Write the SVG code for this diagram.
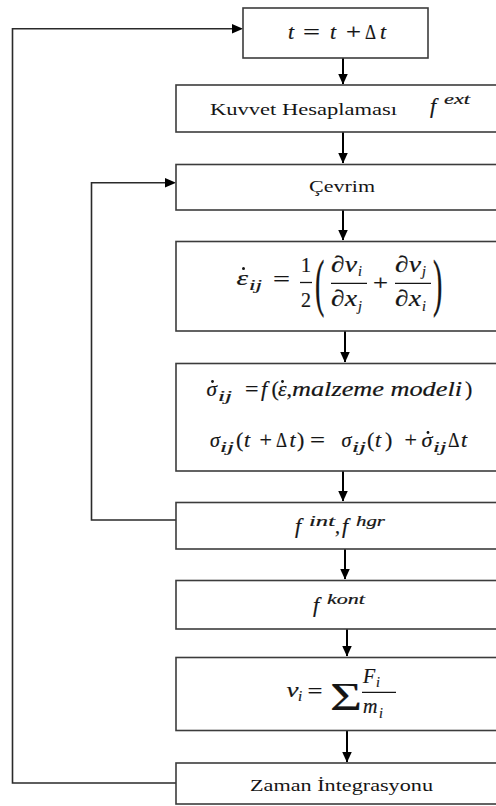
<svg xmlns="http://www.w3.org/2000/svg" width="496" height="806" viewBox="0 0 496 806">
  <defs>
    <marker id="head" markerWidth="11" markerHeight="10" refX="10.5" refY="5" orient="auto" markerUnits="userSpaceOnUse">
      <path d="M0,0 L11,5 L0,10 Z" fill="#000"/>
    </marker>
    <style>
      .box { fill: #fff; stroke: #3c3c3c; stroke-width: 1.6; }
      .flow { fill: none; stroke: #000; stroke-width: 2; marker-end: url(#head); }
      .loop { fill: none; stroke: #2a2a2a; stroke-width: 1.6; }
      text { stroke: #151515; stroke-width: 0.2; }
      text.lbl { stroke: none; }
      .m { font-style: italic; }
      .frac { stroke: #151515; stroke-width: 1.3; }
      .dot { fill: #151515; }
    </style>
  </defs>

  <rect width="496" height="806" fill="#fff"/>

  <!-- connectors -->
  <g id="connectors">
    <path class="flow" d="M343,58 V84"/>
    <path class="flow" d="M343,132 V163"/>
    <path class="flow" d="M343,210 V240"/>
    <path class="flow" d="M345,331 V362"/>
    <path class="flow" d="M343,471 V501"/>
    <path class="flow" d="M345,549 V579"/>
    <path class="flow" d="M347,629 V656"/>
    <path class="flow" d="M347,731 V762"/>
    <!-- inner loop: forces back to the cycle -->
    <path class="loop" d="M176,520 H91.5 V182.7 H166"/>
    <path d="M165,178 L176,182.7 L165,187.4 Z" fill="#000"/>
    <!-- outer loop: time integration back to time step -->
    <path class="loop" d="M176,783 H12.5 V28.7 H233"/>
    <path d="M232,24 L243,28.7 L232,33.4 Z" fill="#000"/>
  </g>

  <g font-family="'Liberation Serif', 'Times New Roman', serif" fill="#151515">

  <!-- time step -->
  <g id="n-time">
    <rect class="box" x="243" y="8" width="185" height="50"/>
    <text class="m" x="288" y="38.5" font-size="22">t</text>
    <text x="303" y="38.5" font-size="22" textLength="17" lengthAdjust="spacingAndGlyphs">=</text>
    <text class="m" x="330" y="38.5" font-size="22">t</text>
    <text x="346" y="38.5" font-size="22" textLength="15" lengthAdjust="spacingAndGlyphs">+</text>
    <text x="365" y="38.5" font-size="22" textLength="11" lengthAdjust="spacingAndGlyphs">Δ</text>
    <text class="m" x="380" y="38.5" font-size="22">t</text>
  </g>

  <!-- external force -->
  <g id="n-force">
    <rect class="box" x="176" y="85" width="340" height="47"/>
    <text class="lbl" x="210" y="115" font-size="17" textLength="187" lengthAdjust="spacingAndGlyphs">Kuvvet Hesaplaması</text>
    <text class="m" x="430" y="113" font-size="22">f</text>
    <text class="m" x="444" y="104" font-size="15" textLength="26" lengthAdjust="spacingAndGlyphs">ext</text>
  </g>

  <!-- cycle -->
  <g id="n-cycle">
    <rect class="box" x="176" y="164.5" width="340" height="45.5"/>
    <text class="lbl" x="309" y="192" font-size="17" textLength="66" lengthAdjust="spacingAndGlyphs">Çevrim</text>
  </g>

  <!-- strain rate -->
  <g id="n-strain">
    <rect class="box" x="176" y="241.5" width="340" height="89.5"/>
    <text class="m" x="236.5" y="285" font-size="22" textLength="11.5" lengthAdjust="spacingAndGlyphs">ε</text>
    <circle class="dot" cx="243.5" cy="268.5" r="1.5"/>
    <text class="m" x="249" y="290" font-size="15" textLength="13" lengthAdjust="spacingAndGlyphs">ij</text>
    <text x="273" y="286" font-size="22" textLength="17" lengthAdjust="spacingAndGlyphs">=</text>
    <text x="301" y="271.5" font-size="20">1</text>
    <line class="frac" x1="300" y1="282.5" x2="312" y2="282.5"/>
    <text x="301" y="307" font-size="20">2</text>
    <text transform="translate(315,304) scale(1,2.3)" font-size="28">(</text>
    <text class="m" x="331" y="271.5" font-size="23" textLength="26" lengthAdjust="spacingAndGlyphs">∂ν</text>
    <text class="m" x="358" y="276" font-size="14">i</text>
    <line class="frac" x1="331" y1="283.3" x2="367" y2="283.3"/>
    <text class="m" x="331" y="306" font-size="23" textLength="26" lengthAdjust="spacingAndGlyphs">∂x</text>
    <text class="m" x="358" y="311" font-size="14">j</text>
    <text x="373" y="290" font-size="22" textLength="15" lengthAdjust="spacingAndGlyphs">+</text>
    <text class="m" x="395" y="271.5" font-size="23" textLength="26" lengthAdjust="spacingAndGlyphs">∂ν</text>
    <text class="m" x="422" y="276" font-size="14">j</text>
    <line class="frac" x1="395" y1="283.3" x2="431" y2="283.3"/>
    <text class="m" x="395" y="306" font-size="23" textLength="26" lengthAdjust="spacingAndGlyphs">∂x</text>
    <text class="m" x="422" y="311" font-size="14">i</text>
    <text transform="translate(433,304) scale(1,2.3)" font-size="28">)</text>
  </g>

  <!-- stress update -->
  <g id="n-stress">
    <rect class="box" x="176" y="363.5" width="340" height="107.5"/>
    <!-- rate of stress from the material model -->
    <text class="m" x="206.5" y="396" font-size="22" textLength="10.5" lengthAdjust="spacingAndGlyphs">σ</text>
    <circle class="dot" cx="212.5" cy="381.5" r="1.4"/>
    <text class="m" x="218" y="401" font-size="15" textLength="14" lengthAdjust="spacingAndGlyphs">ij</text>
    <text x="245" y="396" font-size="22" textLength="13.5" lengthAdjust="spacingAndGlyphs">=</text>
    <text class="m" x="261" y="396" font-size="22">f</text>
    <text x="271.5" y="396" font-size="22">(</text>
    <text class="m" x="278" y="396" font-size="22" textLength="8.5" lengthAdjust="spacingAndGlyphs">ε</text>
    <circle class="dot" cx="282.5" cy="381.5" r="1.4"/>
    <text x="286.5" y="396" font-size="22">,</text>
    <text class="m" x="292" y="396" font-size="22" textLength="170" lengthAdjust="spacingAndGlyphs">malzeme modeli</text>
    <text x="465" y="396" font-size="22">)</text>
    <!-- explicit stress update -->
    <text class="m" x="210" y="447" font-size="22" textLength="10" lengthAdjust="spacingAndGlyphs">σ</text>
    <text class="m" x="220" y="452" font-size="15" textLength="14" lengthAdjust="spacingAndGlyphs">ij</text>
    <text x="236" y="447" font-size="22">(</text>
    <text class="m" x="244" y="447" font-size="22">t</text>
    <text x="259.5" y="447" font-size="22" textLength="12.5" lengthAdjust="spacingAndGlyphs">+</text>
    <text x="276" y="447" font-size="22" textLength="11" lengthAdjust="spacingAndGlyphs">Δ</text>
    <text class="m" x="289.5" y="447" font-size="22">t</text>
    <text x="297" y="447" font-size="22">)</text>
    <text x="310" y="447" font-size="22" textLength="15" lengthAdjust="spacingAndGlyphs">=</text>
    <text class="m" x="341.5" y="447" font-size="22" textLength="10" lengthAdjust="spacingAndGlyphs">σ</text>
    <text class="m" x="352" y="452" font-size="15" textLength="14" lengthAdjust="spacingAndGlyphs">ij</text>
    <text x="367" y="447" font-size="22">(</text>
    <text class="m" x="375" y="447" font-size="22">t</text>
    <text x="385" y="447" font-size="22">)</text>
    <text x="404.5" y="447" font-size="22" textLength="12.5" lengthAdjust="spacingAndGlyphs">+</text>
    <text class="m" x="421.5" y="447" font-size="22" textLength="11" lengthAdjust="spacingAndGlyphs">σ</text>
    <circle class="dot" cx="428" cy="432.5" r="1.4"/>
    <text class="m" x="433" y="452" font-size="15" textLength="13.5" lengthAdjust="spacingAndGlyphs">ij</text>
    <text x="448" y="447" font-size="22" textLength="11.5" lengthAdjust="spacingAndGlyphs">Δ</text>
    <text class="m" x="461" y="447" font-size="22">t</text>
  </g>

  <!-- internal and hourglass forces -->
  <g id="n-internal">
    <rect class="box" x="176" y="502.5" width="340" height="46.5"/>
    <text class="m" x="295" y="533" font-size="22">f</text>
    <text class="m" x="309" y="526" font-size="15" textLength="26" lengthAdjust="spacingAndGlyphs">int</text>
    <text x="335" y="533" font-size="20">,</text>
    <text class="m" x="342" y="533" font-size="22">f</text>
    <text class="m" x="356" y="526" font-size="15" textLength="29" lengthAdjust="spacingAndGlyphs">hgr</text>
  </g>

  <!-- contact force -->
  <g id="n-contact">
    <rect class="box" x="176" y="580.5" width="340" height="48.5"/>
    <text class="m" x="313" y="611.5" font-size="22">f</text>
    <text class="m" x="327" y="603.5" font-size="15" textLength="38" lengthAdjust="spacingAndGlyphs">kont</text>
  </g>

  <!-- velocity -->
  <g id="n-velocity">
    <rect class="box" x="176" y="657.5" width="340" height="73"/>
    <text class="m" x="286.5" y="696.5" font-size="22" textLength="12" lengthAdjust="spacingAndGlyphs">ν</text>
    <text class="m" x="298" y="701" font-size="15">i</text>
    <text x="307.5" y="698" font-size="22" textLength="15" lengthAdjust="spacingAndGlyphs">=</text>
    <text x="330" y="709.5" font-size="40" textLength="32" lengthAdjust="spacingAndGlyphs">Σ</text>
    <text class="m" x="363" y="682.5" font-size="20">F</text>
    <text class="m" x="376" y="687" font-size="14">i</text>
    <line class="frac" x1="362" y1="692.3" x2="396" y2="692.3"/>
    <text class="m" x="363" y="713" font-size="20">m</text>
    <text class="m" x="379" y="717.5" font-size="14">i</text>
  </g>

  <!-- time integration -->
  <g id="n-integration">
    <rect class="box" x="176" y="763" width="340" height="41"/>
    <text class="lbl" x="250" y="790.5" font-size="17" textLength="183" lengthAdjust="spacingAndGlyphs">Zaman İntegrasyonu</text>
  </g>

  </g>
</svg>
